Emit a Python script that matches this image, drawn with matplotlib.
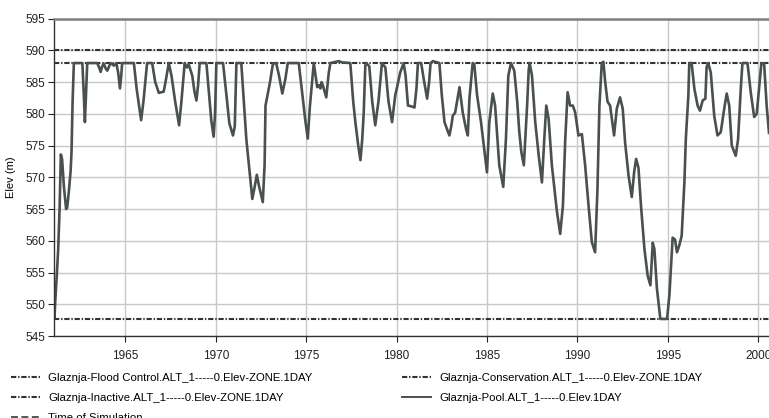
import matplotlib
matplotlib.use("Agg")
import matplotlib.pyplot as plt
from matplotlib.lines import Line2D

plt.rcParams['font.family'] = ['Liberation Sans', 'DejaVu Sans']
plt.rcParams['lines.scale_dashes'] = False

# zone elevations (m)
flood_control = 590.0
conservation = 588.0
inactive = 547.7

# pool elevation, decimal year / metres
pool_year = [
    1961.05, 1961.08, 1961.12, 1961.2, 1961.28, 1961.36, 1961.43, 1961.5, 1961.6, 1961.72,
    1961.78, 1961.88, 1961.97, 1962.02, 1962.08, 1962.15, 1962.62, 1962.7, 1962.76, 1962.82,
    1962.89, 1963.44, 1963.55, 1963.63, 1963.72, 1963.81, 1963.9, 1964.0, 1964.1, 1964.18,
    1964.37, 1964.5, 1964.6, 1964.7, 1964.77, 1964.82, 1965.47, 1965.62, 1965.87, 1966.0,
    1966.2, 1966.48, 1966.65, 1966.85, 1967.12, 1967.25, 1967.4, 1967.55, 1967.75, 1967.97,
    1968.1, 1968.28, 1968.4, 1968.5, 1968.7, 1968.82, 1968.93, 1969.02, 1969.11, 1969.48,
    1969.6, 1969.75, 1969.88, 1969.96, 1970.03, 1970.4, 1970.55, 1970.75, 1970.95, 1971.05,
    1971.14, 1971.41, 1971.55, 1971.69, 1971.87, 1972.02, 1972.15, 1972.27, 1972.4, 1972.6,
    1972.7, 1972.75, 1972.88, 1973.0, 1973.16, 1973.34, 1973.5, 1973.68, 1973.85, 1973.98,
    1974.59, 1974.75, 1974.95, 1975.09, 1975.2, 1975.42, 1975.61, 1975.7, 1975.79, 1975.85,
    1975.92, 1976.11, 1976.25, 1976.34, 1976.8, 1977.0, 1977.44, 1977.6, 1977.72, 1977.88,
    1978.0, 1978.1, 1978.18, 1978.27, 1978.32, 1978.49, 1978.65, 1978.82, 1979.0, 1979.19,
    1979.38, 1979.55, 1979.75, 1979.93, 1980.05, 1980.2, 1980.39, 1980.5, 1980.63, 1980.8,
    1980.99, 1981.1, 1981.18, 1981.36, 1981.5, 1981.69, 1981.8, 1981.88, 1982.01, 1982.37,
    1982.5, 1982.65, 1982.8, 1982.92, 1983.02, 1983.11, 1983.24, 1983.48, 1983.66, 1983.85,
    1983.94, 1984.03, 1984.21, 1984.3, 1984.45, 1984.67, 1985.0, 1985.13, 1985.32, 1985.45,
    1985.68, 1985.9, 1986.05, 1986.18, 1986.33, 1986.51, 1986.67, 1986.79, 1986.9, 1987.04,
    1987.22, 1987.31, 1987.36, 1987.49, 1987.67, 1987.86, 1988.04, 1988.17, 1988.28, 1988.41,
    1988.59, 1988.87, 1989.05, 1989.2, 1989.33, 1989.46, 1989.6, 1989.75, 1989.88, 1990.06,
    1990.25, 1990.43, 1990.62, 1990.8, 1990.98, 1991.11, 1991.22, 1991.35, 1991.44, 1991.54,
    1991.67, 1991.81, 1992.03, 1992.18, 1992.36, 1992.51, 1992.64, 1992.83, 1993.01, 1993.14,
    1993.25, 1993.38, 1993.52, 1993.71, 1993.89, 1994.04, 1994.17, 1994.26, 1994.4, 1994.59,
    1994.96, 1995.09, 1995.27, 1995.4, 1995.51, 1995.64, 1995.77, 1995.92, 1996.0, 1996.14,
    1996.19, 1996.32, 1996.47, 1996.65, 1996.78, 1996.93, 1997.08, 1997.15, 1997.24, 1997.38,
    1997.57, 1997.75, 1997.93, 1998.15, 1998.26, 1998.4, 1998.54, 1998.76, 1998.89, 1999.04,
    1999.13, 1999.41, 1999.59, 1999.78, 1999.92, 2000.05, 2000.18, 2000.33, 2000.47, 2000.6,
]
pool_elev = [
    548.6, 547.9, 550.5, 554.3, 558.5, 565.0, 573.6, 572.8, 568.5, 565.0,
    565.2, 568.0, 571.0, 574.0, 582.0, 588.0, 588.0, 583.0, 578.7, 583.0,
    588.0, 588.0, 587.3, 586.6, 587.5, 587.9, 587.2, 586.8, 587.5, 588.0,
    587.6, 588.0, 586.5, 584.0, 586.0, 588.0, 588.0, 584.0, 579.0, 582.0,
    588.0, 588.0, 585.0, 583.3, 583.5, 585.5, 588.0, 586.0, 582.0, 578.2,
    582.0, 588.0, 587.3, 587.8, 586.0, 583.5, 582.1, 584.5, 588.0, 588.0,
    584.0, 579.0, 576.4, 580.0, 588.0, 588.0, 584.0, 578.5, 576.6, 578.0,
    588.0, 588.0, 582.0, 576.0, 570.8, 566.6, 568.5, 570.4, 568.5, 566.1,
    572.0, 581.3, 583.2, 585.0, 587.9, 588.0, 586.0, 583.2, 585.5, 588.0,
    588.0, 584.0, 579.0, 576.1, 581.0, 588.0, 584.2, 584.5, 584.0, 585.0,
    584.5, 582.6, 586.5, 588.0, 588.3, 588.1, 588.0, 582.0, 578.7, 575.0,
    572.7, 576.0, 580.0, 587.6, 588.0, 587.5, 582.0, 578.2, 582.0, 588.0,
    587.3, 582.0, 578.7, 583.0, 584.5, 586.5, 588.0, 586.0, 581.3, 581.2,
    581.0, 584.0, 588.0, 588.0, 585.5, 582.4, 585.0, 588.0, 588.3, 588.0,
    583.0, 578.7, 577.5, 576.6, 578.0, 579.7, 580.2, 584.2, 580.2, 577.5,
    576.6, 582.4, 588.0, 587.8, 583.0, 578.7, 570.8, 578.7, 583.2, 581.3,
    571.9, 568.5, 576.1, 586.0, 588.0, 586.8, 582.0, 577.1, 574.0, 571.9,
    581.3, 587.0, 588.0, 586.0, 578.7, 573.5, 569.2, 576.0, 581.3, 579.2,
    571.9, 564.6, 561.1, 565.5, 576.0, 583.4, 581.3, 581.3, 580.2, 576.6,
    576.8, 571.9, 565.5, 559.8, 558.2, 568.0, 581.3, 588.0, 588.2, 585.0,
    581.9, 581.3, 576.6, 580.8, 582.6, 580.8, 575.5, 570.3, 566.9, 570.8,
    572.9, 571.5, 565.5, 558.7, 554.5, 553.0, 559.7, 558.7, 552.5, 547.7,
    547.7, 551.4, 560.5, 560.2, 558.2, 559.3, 560.8, 569.2, 576.1, 582.9,
    588.0, 588.0, 584.0, 581.3, 580.5, 582.1, 582.4, 587.4, 588.0, 586.5,
    579.7, 576.6, 577.1, 581.3, 583.2, 581.3, 575.0, 573.4, 576.0, 584.0,
    588.0, 588.0, 583.4, 579.5, 580.0, 584.0, 588.0, 587.9, 581.3, 577.0,
]

year_ticks = [1965, 1970, 1975, 1980, 1985, 1990, 1995, 2000]
elev_ticks = list(range(545, 596, 5))

fig = plt.figure(figsize=(7.69, 4.18), dpi=100)
ax = fig.add_axes([0.0702, 0.196, 0.9298, 0.7595])

dashdot = (0, (3.8, 1.3, 1.0, 1.3))
zone_kw = dict(color='#333333', lw=1.5, linestyle=dashdot)
ax.axhline(flood_control, **zone_kw)
ax.axhline(conservation, **zone_kw)
ax.axhline(inactive, **zone_kw)
ax.plot(pool_year, pool_elev, color='#4a4f4f', lw=1.9, solid_joinstyle='round')

ax.set_xlim(1961.05, 2000.6)
ax.set_ylim(545, 595)
ax.set_xticks(year_ticks)
ax.set_yticks(elev_ticks)
ax.grid(True, color='#c8c8c8', lw=1.0)
ax.set_axisbelow(True)
ax.tick_params(labelsize=8.5, colors='#222222', length=4, width=0.8, pad=2)
ax.tick_params(axis='x', pad=6)
ax.set_ylabel('Elev (m)', fontsize=8, labelpad=7)

for side in ('left', 'bottom'):
    ax.spines[side].set_color('#333333')
    ax.spines[side].set_linewidth(1.0)
ax.spines['top'].set_color('#808080')
ax.spines['top'].set_linewidth(1.8)
ax.spines['right'].set_visible(False)

# legend entries, filled column by column
handles = [
    Line2D([], [], **zone_kw),
    Line2D([], [], **zone_kw),
    Line2D([], [], color='#3a3a3a', lw=1.2, linestyle=(0, (5, 2.5))),
    Line2D([], [], **zone_kw),
    Line2D([], [], color='#4a4f4f', lw=1.4),
]
labels = [
    'Glaznja-Flood Control.ALT_1-----0.Elev-ZONE.1DAY',
    'Glaznja-Inactive.ALT_1-----0.Elev-ZONE.1DAY',
    'Time of Simulation',
    'Glaznja-Conservation.ALT_1-----0.Elev-ZONE.1DAY',
    'Glaznja-Pool.ALT_1-----0.Elev.1DAY',
]
fig.legend(handles, labels, ncol=2, loc='upper left', bbox_to_anchor=(0.0095, 0.115),
           frameon=False, fontsize=8.2, handlelength=2.6, handletextpad=0.7,
           columnspacing=7.8, labelspacing=0.88, borderaxespad=0, borderpad=0.3)

fig.savefig('out.png', dpi=100)
